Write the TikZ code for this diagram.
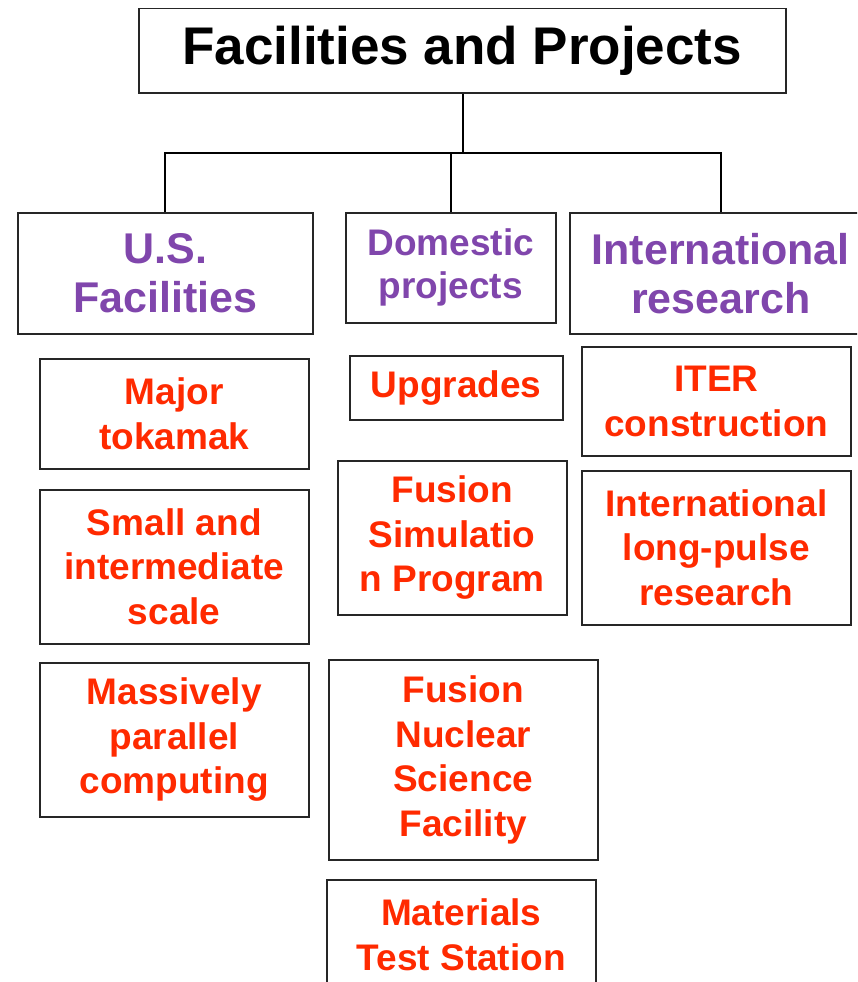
\documentclass[tikz,border=0pt]{standalone}
\usepackage{fontspec}
\setmainfont{Liberation Sans}
\definecolor{hdpurple}{RGB}{128,70,172}
\definecolor{itemred}{RGB}{255,42,0}
\tikzset{
  boxbase/.style={draw=black!85, line width=1.5pt, inner sep=0pt, align=center, anchor=north west},
  titlebox/.style={boxbase, font=\fontsize{53}{60}\selectfont\bfseries},
  headbox/.style={boxbase, text=hdpurple, font=\fontsize{43}{49}\selectfont\bfseries},
  domhead/.style={boxbase, text=hdpurple, font=\fontsize{37}{43}\selectfont\bfseries},
  itembox/.style={boxbase, text=itemred, font=\fontsize{37}{44.5}\selectfont\bfseries},
  link/.style={draw=black, line width=2pt}
}
\begin{document}
\begin{tikzpicture}[x=1pt,y=-1pt]
\clip (0,0) rectangle (857,982);
\fill[white] (0,0) rectangle (857,982);
% title
\node[titlebox, minimum width=647pt, minimum height=84pt] (title) at (138,8) {\raisebox{-3pt}{Facilities and Projects}};
% headers
\node[headbox, minimum width=295pt, minimum height=121pt] (us) at (17,212) {U.S.\\Facilities};
\node[domhead, minimum width=210pt, minimum height=110pt] (dom) at (345,212) {Domestic\\projects};
\node[headbox, minimum width=302pt, minimum height=121pt] (intl) at (569,212) {International\\research};
% connectors
\coordinate (j) at (463,153);
\draw[link] (j |- title.south) -- (j);
\draw[link] (us.north) |- (j) -| (intl.north);
\draw[link] (dom.north) -- (dom.north |- j);
% US column
\node[itembox, minimum width=269pt, minimum height=110pt] (major) at (39,358) {Major\\tokamak};
\node[itembox, minimum width=269pt, minimum height=154pt] (small) at (39,489) {Small and\\intermediate\\scale};
\node[itembox, minimum width=269pt, minimum height=154pt] (mpc) at (39,662) {Massively\\parallel\\computing};
% Domestic column
\node[itembox, minimum width=213pt, minimum height=64pt] (upg) at (349,355) {Upgrades};
\node[itembox, minimum width=229pt, minimum height=154pt] (fsp) at (337,460) {Fusion\\Simulatio\\n Program};
\node[itembox, minimum width=269pt, minimum height=200pt] (fnsf) at (328,659) {Fusion\\Nuclear\\Science\\Facility};
\node[itembox, minimum width=269pt, minimum height=110pt] (mts) at (326,879) {Materials\\Test Station};
% International column
\node[itembox, minimum width=269pt, minimum height=109pt] (iter) at (581,346) {ITER\\construction};
\node[itembox, minimum width=269pt, minimum height=154pt] (ilp) at (581,470) {International\\long-pulse\\research};
\end{tikzpicture}
\end{document}
